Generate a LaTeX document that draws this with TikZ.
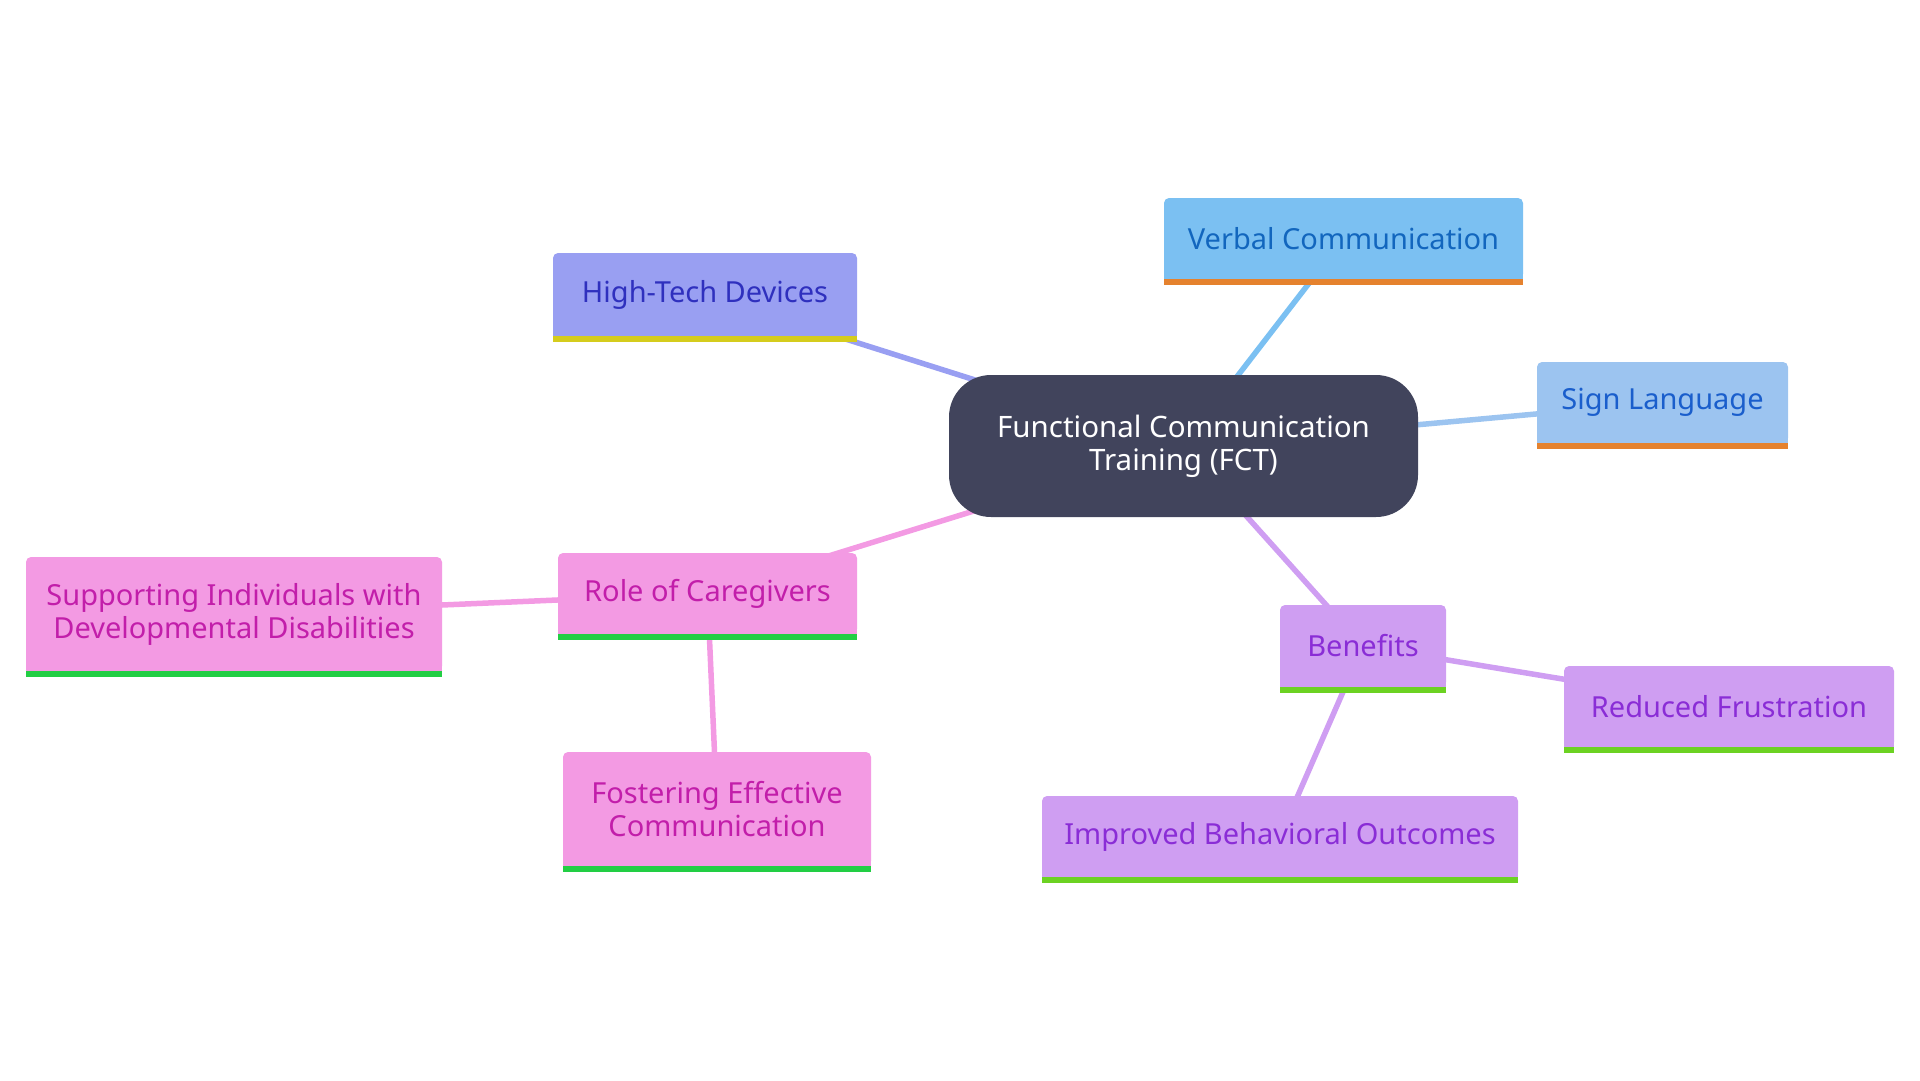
\documentclass[tikz,border=0pt]{standalone}
\usepackage{fontspec}
\setmainfont{Noto Sans}
\usetikzlibrary{backgrounds}

\definecolor{fctdark}{HTML}{41445C}
\definecolor{blueA}{HTML}{7BC0F2}
\definecolor{blueAtext}{HTML}{1266BE}
\definecolor{blueB}{HTML}{9CC4F0}
\definecolor{blueBtext}{HTML}{1A5ECC}
\definecolor{violet}{HTML}{999FF2}
\definecolor{violettext}{HTML}{2F30BE}
\definecolor{pink}{HTML}{F39AE3}
\definecolor{pinktext}{HTML}{C21EAA}
\definecolor{lilac}{HTML}{CF9EF2}
\definecolor{lilactext}{HTML}{8A2DD6}
\definecolor{barorange}{HTML}{E5822E}
\definecolor{baryellow}{HTML}{D5CC1D}
\definecolor{bargreen}{HTML}{22CE44}
\definecolor{barlime}{HTML}{6CD222}

\begin{document}
\begin{tikzpicture}[x=1pt,y=-1pt,
    leaf/.style={rectangle, rounded corners=5pt, align=center, inner sep=0pt,
        font=\fontsize{29}{33}\selectfont},
    link/.style={line width=5.5pt}]
    \useasboundingbox (0,0) rectangle (1920,1080);

    % Draw central node
    \node (fct) [rectangle, rounded corners=42pt, fill=fctdark, text=white,
        minimum width=469pt, minimum height=142pt, align=center,
        font=\fontsize{29.5}{33}\selectfont] at (1183.5,446) {Functional Communication\\Training (FCT)};

    % Draw branches
    \node (verbal) [leaf, fill=blueA, text=blueAtext, minimum width=359pt, minimum height=81pt]
        at (1343.5,238.5) {Verbal Communication};
    \node (sign) [leaf, fill=blueB, text=blueBtext, minimum width=251pt, minimum height=81pt]
        at (1662.5,402.5) {Sign Language};
    \node (hightech) [leaf, fill=violet, text=violettext, minimum width=304pt, minimum height=83pt]
        at (705,294.5) {High-Tech Devices};
    \node (caregivers) [leaf, fill=pink, text=pinktext, minimum width=299pt, minimum height=81pt]
        at (707.5,593.5) {Role of Caregivers};
    \node (supporting) [leaf, fill=pink, text=pinktext, minimum width=416pt, minimum height=114pt]
        at (234,614) {Supporting Individuals with\\Developmental Disabilities};
    \node (fostering) [leaf, fill=pink, text=pinktext, minimum width=308pt, minimum height=114pt]
        at (717,809) {Fostering Effective\\Communication};
    \node (benefits) [leaf, fill=lilac, text=lilactext, minimum width=166pt, minimum height=82pt]
        at (1363,646) {Benefits};
    \node (reduced) [leaf, fill=lilac, text=lilactext, minimum width=330pt, minimum height=81pt]
        at (1729,706.5) {Reduced Frustration};
    \node (improved) [leaf, fill=lilac, text=lilactext, minimum width=476pt, minimum height=81pt]
        at (1280,836.5) {Improved Behavioral Outcomes};

    % Square off the bottoms and add the coloured bars
    \foreach \n/\f/\c in {verbal/blueA/barorange, sign/blueB/barorange,
        hightech/violet/baryellow, caregivers/pink/bargreen, supporting/pink/bargreen,
        fostering/pink/bargreen, benefits/lilac/barlime, reduced/lilac/barlime,
        improved/lilac/barlime}
    {
        \fill[\f] ([yshift=6pt]\n.south west) rectangle (\n.south east);
        \fill[\c] (\n.south west) rectangle ([yshift=-6pt]\n.south east);
    }

    % Draw connectors behind the nodes
    \begin{pgfonlayer}{background}
        \draw[link, violet] (fct.center) -- (hightech.center);
        \draw[link, blueA] (fct.center) -- (verbal.center);
        \draw[link, blueB] (fct.center) -- (sign.center);
        \draw[link, pink] (fct.center) -- (caregivers.center);
        \draw[link, lilac] (fct.center) -- (benefits.center);
        \draw[link, pink] (caregivers.center) -- (supporting.center);
        \draw[link, pink] (caregivers.center) -- (fostering.center);
        \draw[link, lilac] (benefits.center) -- (reduced.center);
        \draw[link, lilac] (benefits.center) -- (improved.center);
    \end{pgfonlayer}
\end{tikzpicture}
\end{document}
